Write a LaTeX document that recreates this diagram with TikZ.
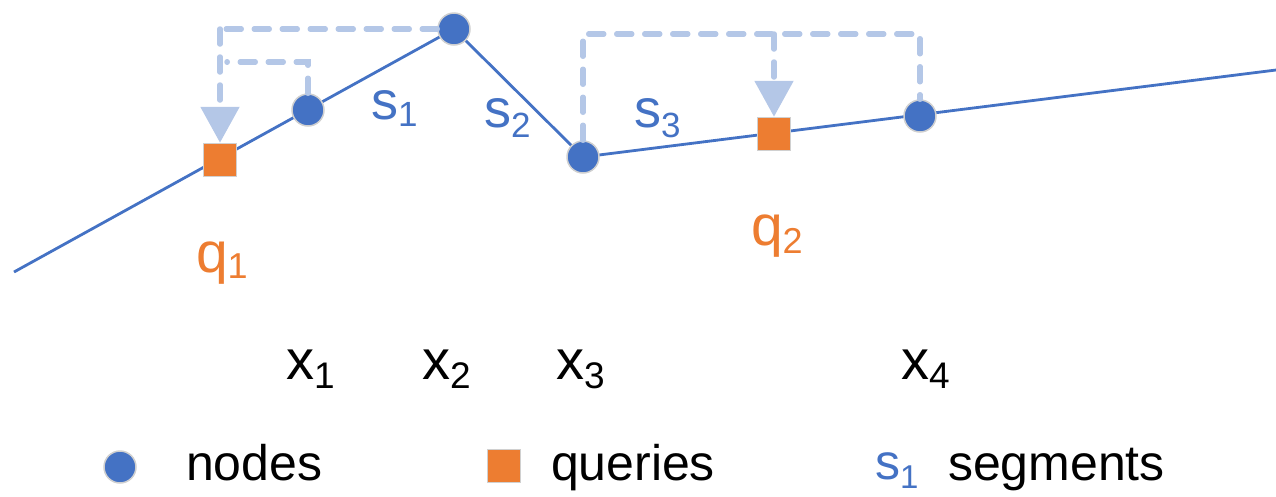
\documentclass[tikz,border=0pt]{standalone}
\usepackage{fontspec}
\setmainfont{Liberation Sans}
\usetikzlibrary{arrows.meta}
\definecolor{mblue}{HTML}{4472C4}
\definecolor{morange}{HTML}{ED7D31}
\definecolor{lblue}{HTML}{B4C7E7}
\definecolor{edgegray}{HTML}{D0D0D0}
\newcommand\mysub[3]{\raisebox{-#2pt}{\fontsize{#1pt}{#1pt}\selectfont #3}}
\tikzset{
  dotnode/.style={circle, fill=mblue, draw=edgegray, line width=1.5pt, minimum size=32pt, inner sep=0pt},
  sqnode/.style={rectangle, fill=morange, draw=edgegray, line width=1.5pt, minimum size=33pt, inner sep=0pt},
  mainline/.style={draw=mblue, line width=2.8pt},
  dashline/.style={draw=lblue, line width=5.5pt, line cap=round, dash pattern=on 15pt off 13pt},
  bigarrow/.style={-{Triangle[width=38pt,length=36pt]}, lblue},
  lbl/.style={anchor=base west, inner sep=0pt, outer sep=0pt},
  slbl/.style={lbl, text=mblue, font=\fontsize{54pt}{54pt}\selectfont},
  qlbl/.style={lbl, text=morange, font=\fontsize{57pt}{57pt}\selectfont},
  xlbl/.style={lbl, text=black, font=\fontsize{56pt}{56pt}\selectfont},
  leglbl/.style={lbl, text=black, font=\fontsize{50pt}{50pt}\selectfont},
}
\begin{document}
\begin{tikzpicture}[x=1pt, y=-1pt]
\useasboundingbox (0,0) rectangle (1276,496);
% positions
\coordinate (start) at (14,272);
\coordinate (c1) at (308,110);
\coordinate (c2) at (454,29);
\coordinate (c3) at (583,157);
\coordinate (c4) at (920,116);
\coordinate (cq1) at (220,160);
\coordinate (cq2) at (774,134);
\coordinate (end) at (1276,70);
% main polyline
\draw[mainline] (start) -- (c2) -- (c3) -- (end);
% nodes and queries
\node[sqnode] (q1) at (cq1) {};
\node[sqnode] (q2) at (cq2) {};
\node[dotnode] (x1) at (c1) {};
\node[dotnode] (x2) at (c2) {};
\node[dotnode] (x3) at (c3) {};
\node[dotnode] (x4) at (c4) {};
% dashed helper lines
\coordinate (k1) at (220,29);
\coordinate (k2) at (308,62);
\coordinate (k3) at (227,62);
\coordinate (k4) at (583,34);
\coordinate (k5) at (920,34);
\coordinate (k6) at (774,34);
\draw[dashline] (x2.west) -- (k1);
\draw[dashline] (x1.north) -- (k2) -- (k3);
\draw[dashline] (x3.north) -- (k4) -- (k5) -- (x4.north);
\draw[dashline, bigarrow] (k1) -- (q1.north);
\draw[dashline, bigarrow] (k6) -- (q2.north);
% segment labels
\node[slbl] (s1) at (371,119) {s\mysub{35}{7}{1}};
\node[slbl] (s2) at (484,127) {s\mysub{35}{10}{2}};
\node[slbl] (s3) at (634,127) {s\mysub{35}{10}{3}};
% query labels
\node[qlbl] (lq1) at (196,272) {q\mysub{36}{6}{1}};
\node[qlbl] (lq2) at (751,245) {q\mysub{36}{8}{2}};
% x labels
\node[xlbl] (lx1) at (286,379) {x\mysub{37}{9}{1}};
\node[xlbl] (lx2) at (422,379) {x\mysub{37}{9}{2}};
\node[xlbl] (lx3) at (556,379) {x\mysub{37}{9}{3}};
\node[xlbl] (lx4) at (901,379) {x\mysub{37}{9}{4}};
% legend
\node[dotnode] (legdot) at (120,467) {};
\node[leglbl] (legnodes) at (186,480) {nodes};
\node[sqnode] (legsq) at (504,466) {};
\node[leglbl] (legqueries) at (551,480) {queries};
\node[lbl, text=mblue, font=\fontsize{50pt}{50pt}\selectfont] (legs) at (875,479) {s\mysub{33}{9}{1}};
\node[leglbl] (legsegments) at (948,480) {segments};
\end{tikzpicture}
\end{document}
